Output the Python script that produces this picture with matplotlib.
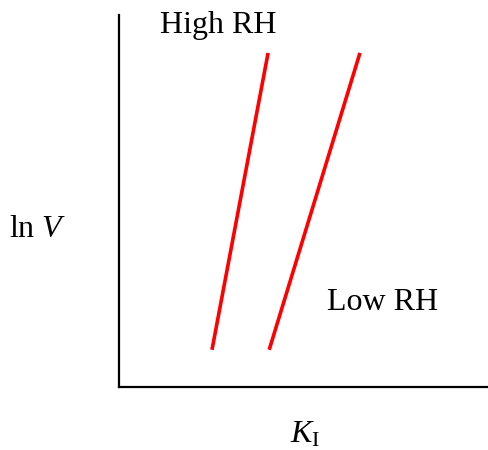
import matplotlib
matplotlib.use("Agg")
import matplotlib.pyplot as plt

plt.rcParams['font.family'] = ['Liberation Serif', 'DejaVu Serif']
plt.rcParams['mathtext.fontset'] = 'custom'
plt.rcParams['mathtext.rm'] = 'Liberation Serif'
plt.rcParams['mathtext.it'] = 'Liberation Serif:italic'

# schematic lines (arbitrary units)
high_x = [2.52, 4.04]
high_y = [1.0, 8.98]
low_x = [4.07, 6.53]
low_y = [1.0, 8.98]

fig = plt.figure(figsize=(4.88, 4.5), dpi=100)
ax = fig.add_axes([119 / 488, 63 / 450, 369 / 488, 372 / 450])

ax.plot(high_x, high_y, color='#ff0000', lw=2.6, solid_capstyle='butt')
ax.plot(low_x, low_y, color='#ff0000', lw=2.6, solid_capstyle='butt')

ax.set_xlim(0, 10)
ax.set_ylim(0, 10)
for s in ['top', 'right']:
    ax.spines[s].set_visible(False)
for s in ['left', 'bottom']:
    ax.spines[s].set_linewidth(1.6)
ax.set_xticks([])
ax.set_yticks([])

ax.text(2.68, 9.73, 'High RH', fontsize=23, ha='center', va='center')
ax.text(7.15, 2.28, 'Low RH', fontsize=23, ha='center', va='center')

fig.text(38 / 488, 1 - 230 / 450, r'ln $V$', fontsize=23, ha='center', va='center')
fig.text(305 / 488, 1 - 435 / 450, r'$K_\mathrm{I}$', fontsize=23, ha='center', va='center')

fig.savefig('out.png', dpi=100)
